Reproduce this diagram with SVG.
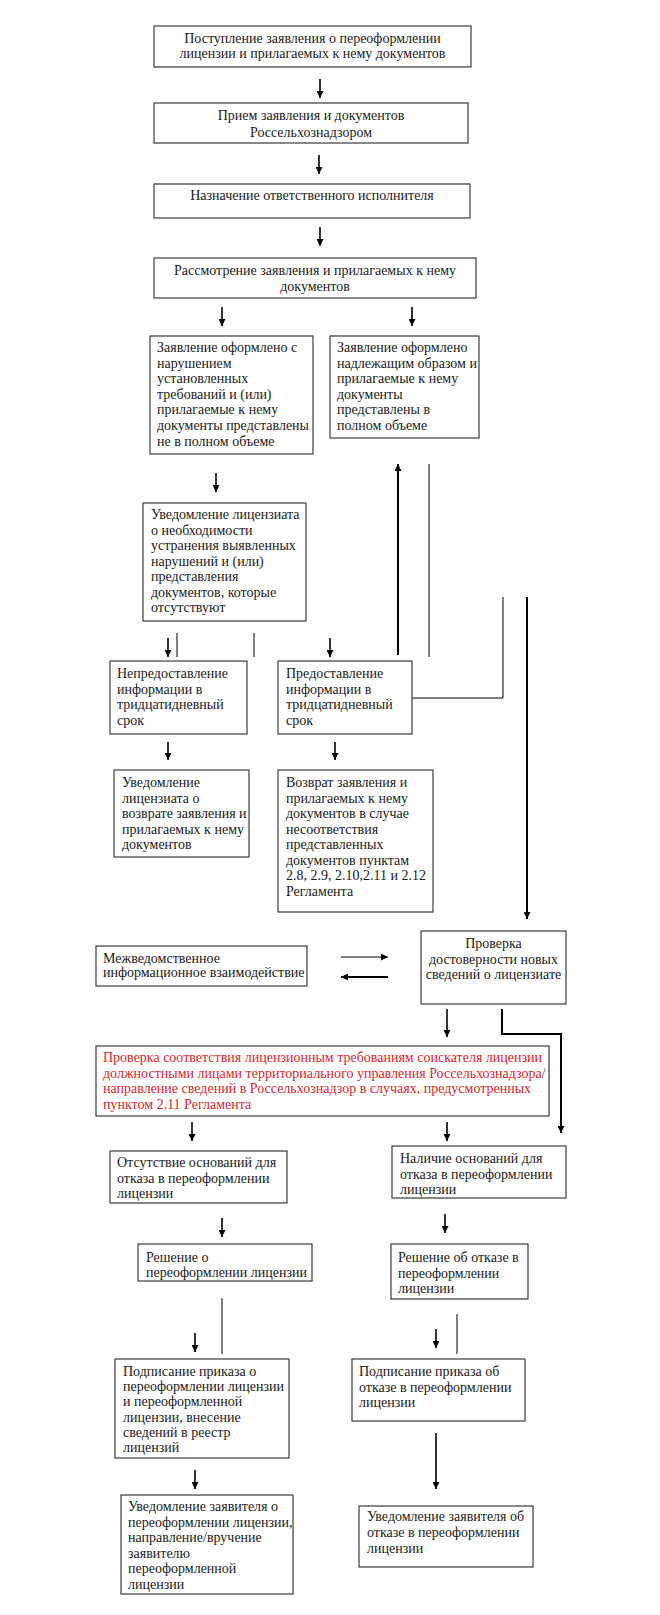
<svg xmlns="http://www.w3.org/2000/svg" width="660" height="1615" viewBox="0 0 660 1615">
<style>
.bx{fill:#fff;stroke:#3a3a3a;stroke-width:1.2}
text{font-family:"Liberation Serif","Times New Roman",serif;font-size:14px;fill:#1a1a1a}
.c{text-anchor:middle}
.red{fill:#e0242c}
.a{stroke:#000;stroke-width:1.6;fill:none}
.t{stroke:#000;stroke-width:1;fill:none}
.k{stroke:#000;stroke-width:2;fill:none}
</style>
<defs>
<marker id="ah" viewBox="0 0 10 10" refX="10" refY="5" markerWidth="7" markerHeight="7" markerUnits="userSpaceOnUse" orient="auto"><path d="M0,0 L10,5 L0,10 z" fill="#000"/></marker>
</defs>
<rect width="660" height="1615" fill="#fff"/>
<g id="connectors">
<line class="a" x1="320" y1="79" x2="320" y2="98" marker-end="url(#ah)"/>
<line class="a" x1="319" y1="155" x2="319" y2="174" marker-end="url(#ah)"/>
<line class="a" x1="320" y1="227" x2="320" y2="246" marker-end="url(#ah)"/>
<line class="a" x1="222" y1="307" x2="222" y2="326" marker-end="url(#ah)"/>
<line class="a" x1="412" y1="307" x2="412" y2="326" marker-end="url(#ah)"/>
<line class="a" x1="216" y1="473" x2="216" y2="492" marker-end="url(#ah)"/>
<line class="a" x1="168" y1="638" x2="168" y2="657" marker-end="url(#ah)"/>
<line class="t" x1="177" y1="633" x2="177" y2="657"/>
<line class="t" x1="254" y1="633" x2="254" y2="657"/>
<line class="a" x1="330" y1="638" x2="330" y2="657" marker-end="url(#ah)"/>
<line class="k" x1="398" y1="655" x2="398" y2="464" marker-end="url(#ah)"/>
<line class="t" x1="429" y1="464" x2="429" y2="657"/>
<polyline class="t" points="412,698 503,698 503,597"/>
<line class="k" x1="527" y1="597" x2="527" y2="919" marker-end="url(#ah)"/>
<line class="a" x1="168" y1="742" x2="168" y2="760" marker-end="url(#ah)"/>
<line class="a" x1="335" y1="742" x2="335" y2="760" marker-end="url(#ah)"/>
<line class="t" x1="341" y1="957" x2="388" y2="957" marker-end="url(#ah)"/>
<line class="k" x1="388" y1="977" x2="341" y2="977" marker-end="url(#ah)"/>
<line class="a" x1="447" y1="1009" x2="447" y2="1037" marker-end="url(#ah)"/>
<polyline class="k" points="502,1009 502,1034 561,1034 561,1133" marker-end="url(#ah)"/>
<line class="a" x1="192" y1="1122" x2="192" y2="1141" marker-end="url(#ah)"/>
<line class="a" x1="447" y1="1122" x2="447" y2="1141" marker-end="url(#ah)"/>
<line class="a" x1="222" y1="1218" x2="222" y2="1237" marker-end="url(#ah)"/>
<line class="a" x1="445" y1="1214" x2="445" y2="1233" marker-end="url(#ah)"/>
<line class="t" x1="222" y1="1298" x2="222" y2="1354"/>
<line class="a" x1="195" y1="1333" x2="195" y2="1352" marker-end="url(#ah)"/>
<line class="t" x1="457" y1="1314" x2="457" y2="1354"/>
<line class="a" x1="436" y1="1329" x2="436" y2="1348" marker-end="url(#ah)"/>
<line class="a" x1="195" y1="1470" x2="195" y2="1489" marker-end="url(#ah)"/>
<line class="a" x1="436" y1="1433" x2="436" y2="1489" marker-end="url(#ah)"/>
</g>
<g id="n1"><rect class="bx" x="154" y="26" width="317" height="41"/>
<text class="c" x="312.5" y="43">Поступление заявления о переоформлении</text>
<text class="c" x="312.5" y="58">лицензии и прилагаемых к нему документов</text></g>
<g id="n2"><rect class="bx" x="154" y="103" width="314" height="40"/>
<text class="c" x="311" y="120">Прием заявления и документов</text>
<text class="c" x="311" y="137">Россельхознадзором</text></g>
<g id="n3"><rect class="bx" x="154" y="184" width="316" height="34"/>
<text class="c" x="312" y="200">Назначение ответственного исполнителя</text></g>
<g id="n4"><rect class="bx" x="154" y="258" width="322" height="40"/>
<text class="c" x="315" y="275">Рассмотрение заявления и прилагаемых к нему</text>
<text class="c" x="315" y="291">документов</text></g>
<g id="n5"><rect class="bx" x="150" y="336" width="163" height="118"/>
<text x="157" y="352">Заявление оформлено с</text>
<text x="157" y="367.5">нарушением</text>
<text x="157" y="383">установленных</text>
<text x="157" y="398.5">требований и (или)</text>
<text x="157" y="414">прилагаемые к нему</text>
<text x="157" y="429.5">документы представлены</text>
<text x="157" y="446">не в полном объеме</text></g>
<g id="n6"><rect class="bx" x="330" y="336" width="149" height="102"/>
<text x="337" y="352">Заявление оформлено</text>
<text x="337" y="367.5">надлежащим образом и</text>
<text x="337" y="383">прилагаемые к нему</text>
<text x="337" y="398.5">документы</text>
<text x="337" y="414">представлены в</text>
<text x="337" y="429.5">полном объеме</text></g>
<g id="n7"><rect class="bx" x="143" y="503" width="163" height="118"/>
<text x="151" y="519">Уведомление лицензиата</text>
<text x="151" y="534.5">о необходимости</text>
<text x="151" y="550">устранения выявленных</text>
<text x="151" y="565.5">нарушений и (или)</text>
<text x="151" y="581">представления</text>
<text x="151" y="596.5">документов, которые</text>
<text x="151" y="612">отсутствуют</text></g>
<g id="n8"><rect class="bx" x="110" y="661" width="137" height="73"/>
<text x="117" y="678">Непредоставление</text>
<text x="117" y="693.5">информации в</text>
<text x="117" y="709">тридцатидневный</text>
<text x="117" y="724.5">срок</text></g>
<g id="n9"><rect class="bx" x="278" y="661" width="134" height="73"/>
<text x="286" y="678">Предоставление</text>
<text x="286" y="693.5">информации в</text>
<text x="286" y="709">тридцатидневный</text>
<text x="286" y="724.5">срок</text></g>
<g id="n10"><rect class="bx" x="114" y="770" width="135" height="87"/>
<text x="122" y="787">Уведомление</text>
<text x="122" y="802.5">лицензиата о</text>
<text x="122" y="818">возврате заявления и</text>
<text x="122" y="833.5">прилагаемых к нему</text>
<text x="122" y="849">документов</text></g>
<g id="n11"><rect class="bx" x="278" y="770" width="155" height="142"/>
<text x="286" y="787">Возврат заявления и</text>
<text x="286" y="802.5">прилагаемых к нему</text>
<text x="286" y="818">документов в случае</text>
<text x="286" y="833.5">несоответствия</text>
<text x="286" y="849">представленных</text>
<text x="286" y="864.5">документов пунктам</text>
<text x="286" y="880">2.8, 2.9, 2.10,2.11 и 2.12</text>
<text x="286" y="895.5">Регламента</text></g>
<g id="n12"><rect class="bx" x="96" y="946" width="211" height="40"/>
<text x="103" y="963">Межведомственное</text>
<text x="103" y="977">информационное взаимодействие</text></g>
<g id="n13"><rect class="bx" x="421" y="931" width="145" height="73"/>
<text class="c" x="493.5" y="948">Проверка</text>
<text class="c" x="493.5" y="963.5">достоверности новых</text>
<text class="c" x="493.5" y="979">сведений о лицензиате</text></g>
<g id="n14"><rect class="bx" x="96" y="1046" width="453" height="70"/>
<text class="red" x="103" y="1062">Проверка соответствия лицензионным требованиям соискателя лицензии</text>
<text class="red" x="103" y="1077.5">должностными лицами территориального управления Россельхознадзора/</text>
<text class="red" x="103" y="1093">направление сведений в Россельхознадзор в случаях, предусмотренных</text>
<text class="red" x="103" y="1108.5">пунктом 2.11 Регламента</text></g>
<g id="n15"><rect class="bx" x="110" y="1151" width="177" height="52"/>
<text x="117" y="1167">Отсутствие оснований для</text>
<text x="117" y="1182.5">отказа в переоформлении</text>
<text x="117" y="1198">лицензии</text></g>
<g id="n16"><rect class="bx" x="392" y="1146" width="174" height="52"/>
<text x="400" y="1163">Наличие оснований для</text>
<text x="400" y="1178.5">отказа в переоформлении</text>
<text x="400" y="1194">лицензии</text></g>
<g id="n17"><rect class="bx" x="138" y="1244" width="174" height="37"/>
<text x="146" y="1262">Решение о</text>
<text x="146" y="1277">переоформлении лицензии</text></g>
<g id="n18"><rect class="bx" x="391" y="1244" width="137" height="55"/>
<text x="398" y="1262">Решение об отказе в</text>
<text x="398" y="1277.5">переоформлении</text>
<text x="398" y="1293">лицензии</text></g>
<g id="n19"><rect class="bx" x="115" y="1359" width="174" height="99"/>
<text x="123" y="1376">Подписание приказа о</text>
<text x="123" y="1391.2">переоформлении лицензии</text>
<text x="123" y="1406.4">и переоформленной</text>
<text x="123" y="1421.6">лицензии, внесение</text>
<text x="123" y="1436.8">сведений в реестр</text>
<text x="123" y="1452">лицензий</text></g>
<g id="n20"><rect class="bx" x="352" y="1359" width="173" height="62"/>
<text x="359" y="1376">Подписание приказа об</text>
<text x="359" y="1391.5">отказе в переоформлении</text>
<text x="359" y="1407">лицензии</text></g>
<g id="n21"><rect class="bx" x="121" y="1495" width="172" height="99"/>
<text x="128" y="1511">Уведомление заявителя о</text>
<text x="128" y="1526.5">переоформлении лицензии,</text>
<text x="128" y="1542">направление/вручение</text>
<text x="128" y="1557.5">заявителю</text>
<text x="128" y="1573">переоформленной</text>
<text x="128" y="1588.5">лицензии</text></g>
<g id="n22"><rect class="bx" x="359" y="1506" width="174" height="61"/>
<text x="367" y="1521">Уведомление заявителя об</text>
<text x="367" y="1537">отказе в переоформлении</text>
<text x="367" y="1553">лицензии</text></g>
</svg>
